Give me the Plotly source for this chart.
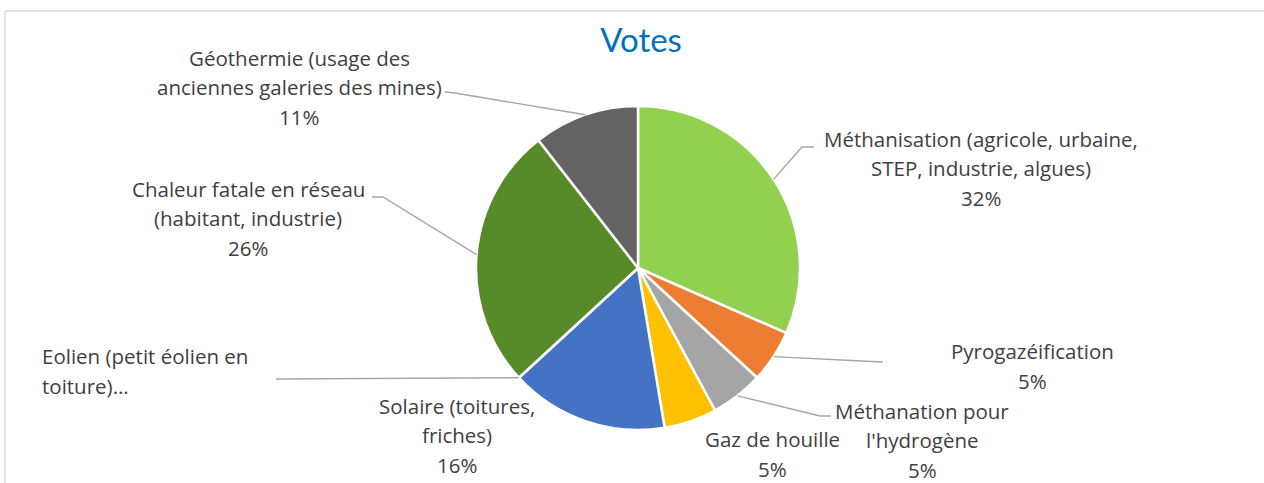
import math
import plotly.graph_objects as go

W, H = 1264, 483

# data
labels = [
    "Méthanisation (agricole, urbaine, STEP, industrie, algues)",
    "Pyrogazéification",
    "Méthanation pour l'hydrogène",
    "Gaz de houille",
    "Solaire (toitures, friches)",
    "Eolien (petit éolien en toiture)",
    "Chaleur fatale en réseau (habitant, industrie)",
    "Géothermie (usage des anciennes galeries des mines)",
]
votes = [6, 1, 1, 1, 3, 0, 5, 2]
label_lines = [
    ["Méthanisation (agricole, urbaine,", "STEP, industrie, algues)"],
    ["Pyrogazéification"],
    ["Méthanation pour", "l'hydrogène"],
    ["Gaz de houille"],
    ["Solaire (toitures,", "friches)"],
    ["Eolien (petit éolien en", "toiture)…"],
    ["Chaleur fatale en réseau", "(habitant, industrie)"],
    ["Géothermie (usage des", "anciennes galeries des mines)"],
]
colors = ["#92D050", "#ED7D31", "#A5A5A5", "#FFC000", "#4472C4", "#5B9BD5", "#578A28", "#636363"]

# pie geometry in pixels
cx, cy, R = 638, 268, 162

# label placement (pixel centre x, centre y of block, anchor), leader path after the slice point
label_pos = {
    0: (981, 168, "center", [(802, 147), (814, 147)]),
    1: (1032, 366, "center", [(862, 361), (883, 362)]),
    2: (922, 440, "center", [(820, 416), (831, 416)]),
    3: (772, 454, "center", None),
    4: (457, 435, "center", None),
    5: (40, 371, "left", [(276, 379)]),
    6: (248, 218, "center", [(383, 197), (372, 197)]),
    7: (299, 87, "center", [(455, 93), (445, 92)]),
}

def px(x):
    return x / W

def py(y):
    return 1 - y / H

total = sum(votes)
pcts = [round(100 * v / total) for v in votes]

fig = go.Figure()
fig.add_trace(go.Pie(
    labels=labels,
    values=votes,
    marker=dict(colors=colors, line=dict(color="white", width=2.5)),
    sort=False,
    direction="clockwise",
    rotation=0,
    textinfo="none",
    hoverinfo="label+percent",
    showlegend=False,
    domain=dict(x=[px(cx - R), px(cx + R)], y=[py(cy + R), py(cy - R)]),
))

font = dict(family="Open Sans, sans-serif", size=20.5, color="#404040")
line_gap = 29.5

shapes = []
# chart frame (top and left edges only visible)
shapes.append(dict(type="line", xref="paper", yref="paper", x0=px(5), y0=py(11), x1=px(W + 5), y1=py(11),
                   line=dict(color="#D9D9D9", width=1.3)))
shapes.append(dict(type="line", xref="paper", yref="paper", x0=px(5), y0=py(11), x1=px(5), y1=py(H + 5),
                   line=dict(color="#D9D9D9", width=1.3)))

cum = 0
for i, v in enumerate(votes):
    mid = (cum + v / 2) / total * 2 * math.pi
    cum += v
    x0 = cx + R * math.sin(mid)
    y0 = cy - R * math.cos(mid)
    lx, ly, anchor, leader = label_pos[i]
    if leader:
        pts = [(x0, y0)] + leader
        path = "M " + " L ".join(f"{px(a):.5f},{py(b):.5f}" for a, b in pts)
        shapes.append(dict(type="path", xref="paper", yref="paper", path=path,
                           line=dict(color="#A6A6A6", width=1.4)))
    lines = list(label_lines[i])
    if i != 5:
        lines.append(f"{pcts[i]}%")
    n = len(lines)
    for k, t in enumerate(lines):
        yk = ly + (k - (n - 1) / 2) * line_gap
        fig.add_annotation(x=px(lx), y=py(yk), xref="paper", yref="paper", text=t,
                           showarrow=False, xanchor=anchor, yanchor="middle", font=font)

fig.update_layout(
    width=W,
    height=H,
    margin=dict(l=0, r=0, t=0, b=0),
    paper_bgcolor="white",
    plot_bgcolor="white",
    title=dict(text="Votes", x=px(641), xanchor="center", y=py(40), yanchor="middle",
               font=dict(family="Lato, Open Sans, sans-serif", size=33, color="#0070C0")),
    shapes=shapes,
)

# drop the browser's default 8px body margin so the figure sits at the page corner
fig.write_html("out.html", config={"displayModeBar": False},
               post_script="document.body.style.margin = '0';")
